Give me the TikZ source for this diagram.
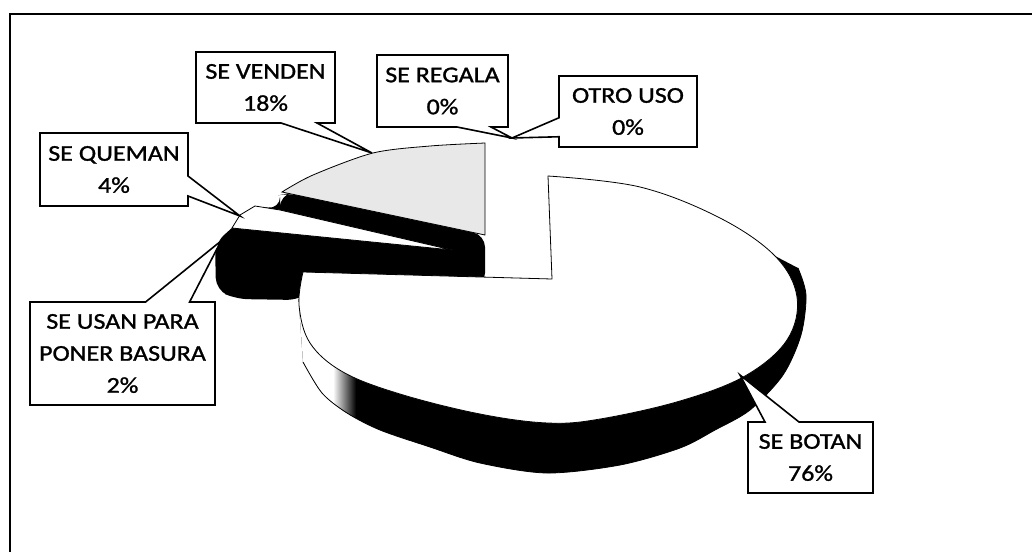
\documentclass[tikz,border=0pt]{standalone}
\usepackage{fontspec}
\setmainfont{Carlito}[FakeStretch=1.15, FakeBold=1.2]
\usepackage{tikz}
\usetikzlibrary{shapes.callouts}

\tikzset{
    lbl/.style = {rectangle callout, draw, line width = 0.8pt, fill = white, align = center,
        inner sep = 0pt, font = \fontsize{11.3}{16}\selectfont},
    face/.style = {fill = white, draw, line width = 0.4pt}
}

\begin{document}
\begin{tikzpicture}[x = 0.5pt, y = -0.5pt]
                \useasboundingbox (0,0) rectangle (1032,552);
                \draw[line width = 0.8pt] (10,552) -- (10,14) -- (1032,14);

                \fill[black, rounded corners = 6pt] (280,195) -- (290,193) -- (485,235) -- (485,285) -- (320,285)
                    -- (299,300) -- (236,299) -- (216,290) -- (215,243) -- (232,228) -- (255,206) -- (280,209) -- cycle;
                \filldraw[face] (232,228) -- (240,215) -- (255,206) -- (280,210) -- (452,250) -- cycle;
                \filldraw[fill = gray!18, draw, line width = 0.4pt] (485,235) -- (282,192)
                    -- plot[smooth] coordinates {(282,192) (313,175) (373,153) (430,146) (485,143)} -- cycle;

                \begin{scope}
                    \clip plot[smooth] coordinates {(775,256) (797,297) (787,340) (745,376) (680,401) (600,419) (548,423)
                        (480,414) (400,394) (343,372) (310,343) (299,305)}
                        -- plot[smooth] coordinates {(303,362) (322,393) (347,413) (380,430) (430,447) (480,463)
                        (547,473) (620,465) (680,448) (715,430) (750,410) (783,375) (801,335) (806,295) (798,268)} -- cycle;
                    \fill[black] (290,250) rectangle (820,480);
                    \fill[white] (290,250) rectangle (334,480);
                    \shade[left color = white, right color = black] (333,250) rectangle (356,480);
                \end{scope}
                \draw[line width = 0.4pt] plot[smooth] coordinates {(303,362) (322,393) (347,413) (380,430)
                    (430,447) (480,463) (547,473) (620,465) (680,448) (715,430) (750,410) (783,375) (801,335) (806,295) (798,268)};
                \filldraw[face] (552,279) -- plot[smooth, tension = 0.6] coordinates {(548,176) (640,187) (720,218)
                    (775,256) (797,297) (787,340) (745,376) (680,401) (600,419) (548,423) (480,414) (400,394)
                    (343,372) (310,343) (299,305) (303,272)} -- cycle;

                \coordinate (tipV) at (372,153);
                \coordinate (tipZ) at (512,138);
                \coordinate (tipQ) at (240,216);
                \coordinate (tipU) at (221,241);
                \coordinate (tipB) at (740,375);

                \node[lbl, minimum width = 69.5pt, minimum height = 35.5pt, callout pointer width = 18pt,
                    callout absolute pointer = {(tipV)}] (venden) at (265.5,87.5) {SE VENDEN\\18\%};
                \node[lbl, minimum width = 65.5pt, minimum height = 36pt, callout pointer width = 17pt,
                    callout absolute pointer = {(tipZ)}] (regala) at (442.5,91) {SE REGALA\\0\%};
                \node[lbl, minimum width = 69pt, minimum height = 35.5pt, callout pointer width = 9.5pt,
                    callout absolute pointer = {(tipZ)}] (otro) at (628,111.5) {OTRO USO\\0\%};
                \node[lbl, minimum width = 74pt, minimum height = 36.5pt, callout pointer width = 10pt,
                    callout absolute pointer = {(tipQ)}] (queman) at (114,169.5) {SE QUEMAN\\4\%};
                \node[lbl, minimum width = 92.5pt, minimum height = 51.5pt, callout pointer width = 22pt,
                    callout absolute pointer = {(tipU)}] (usan) at (122.5,353.5) {SE USAN PARA\\PONER BASURA\\2\%};
                \node[lbl, minimum width = 62.5pt, minimum height = 35.5pt, callout pointer width = 17pt,
                    callout absolute pointer = {(tipB)}] (botan) at (810.5,457.5) {SE BOTAN\\76\%};

            \end{tikzpicture}
\end{document}
